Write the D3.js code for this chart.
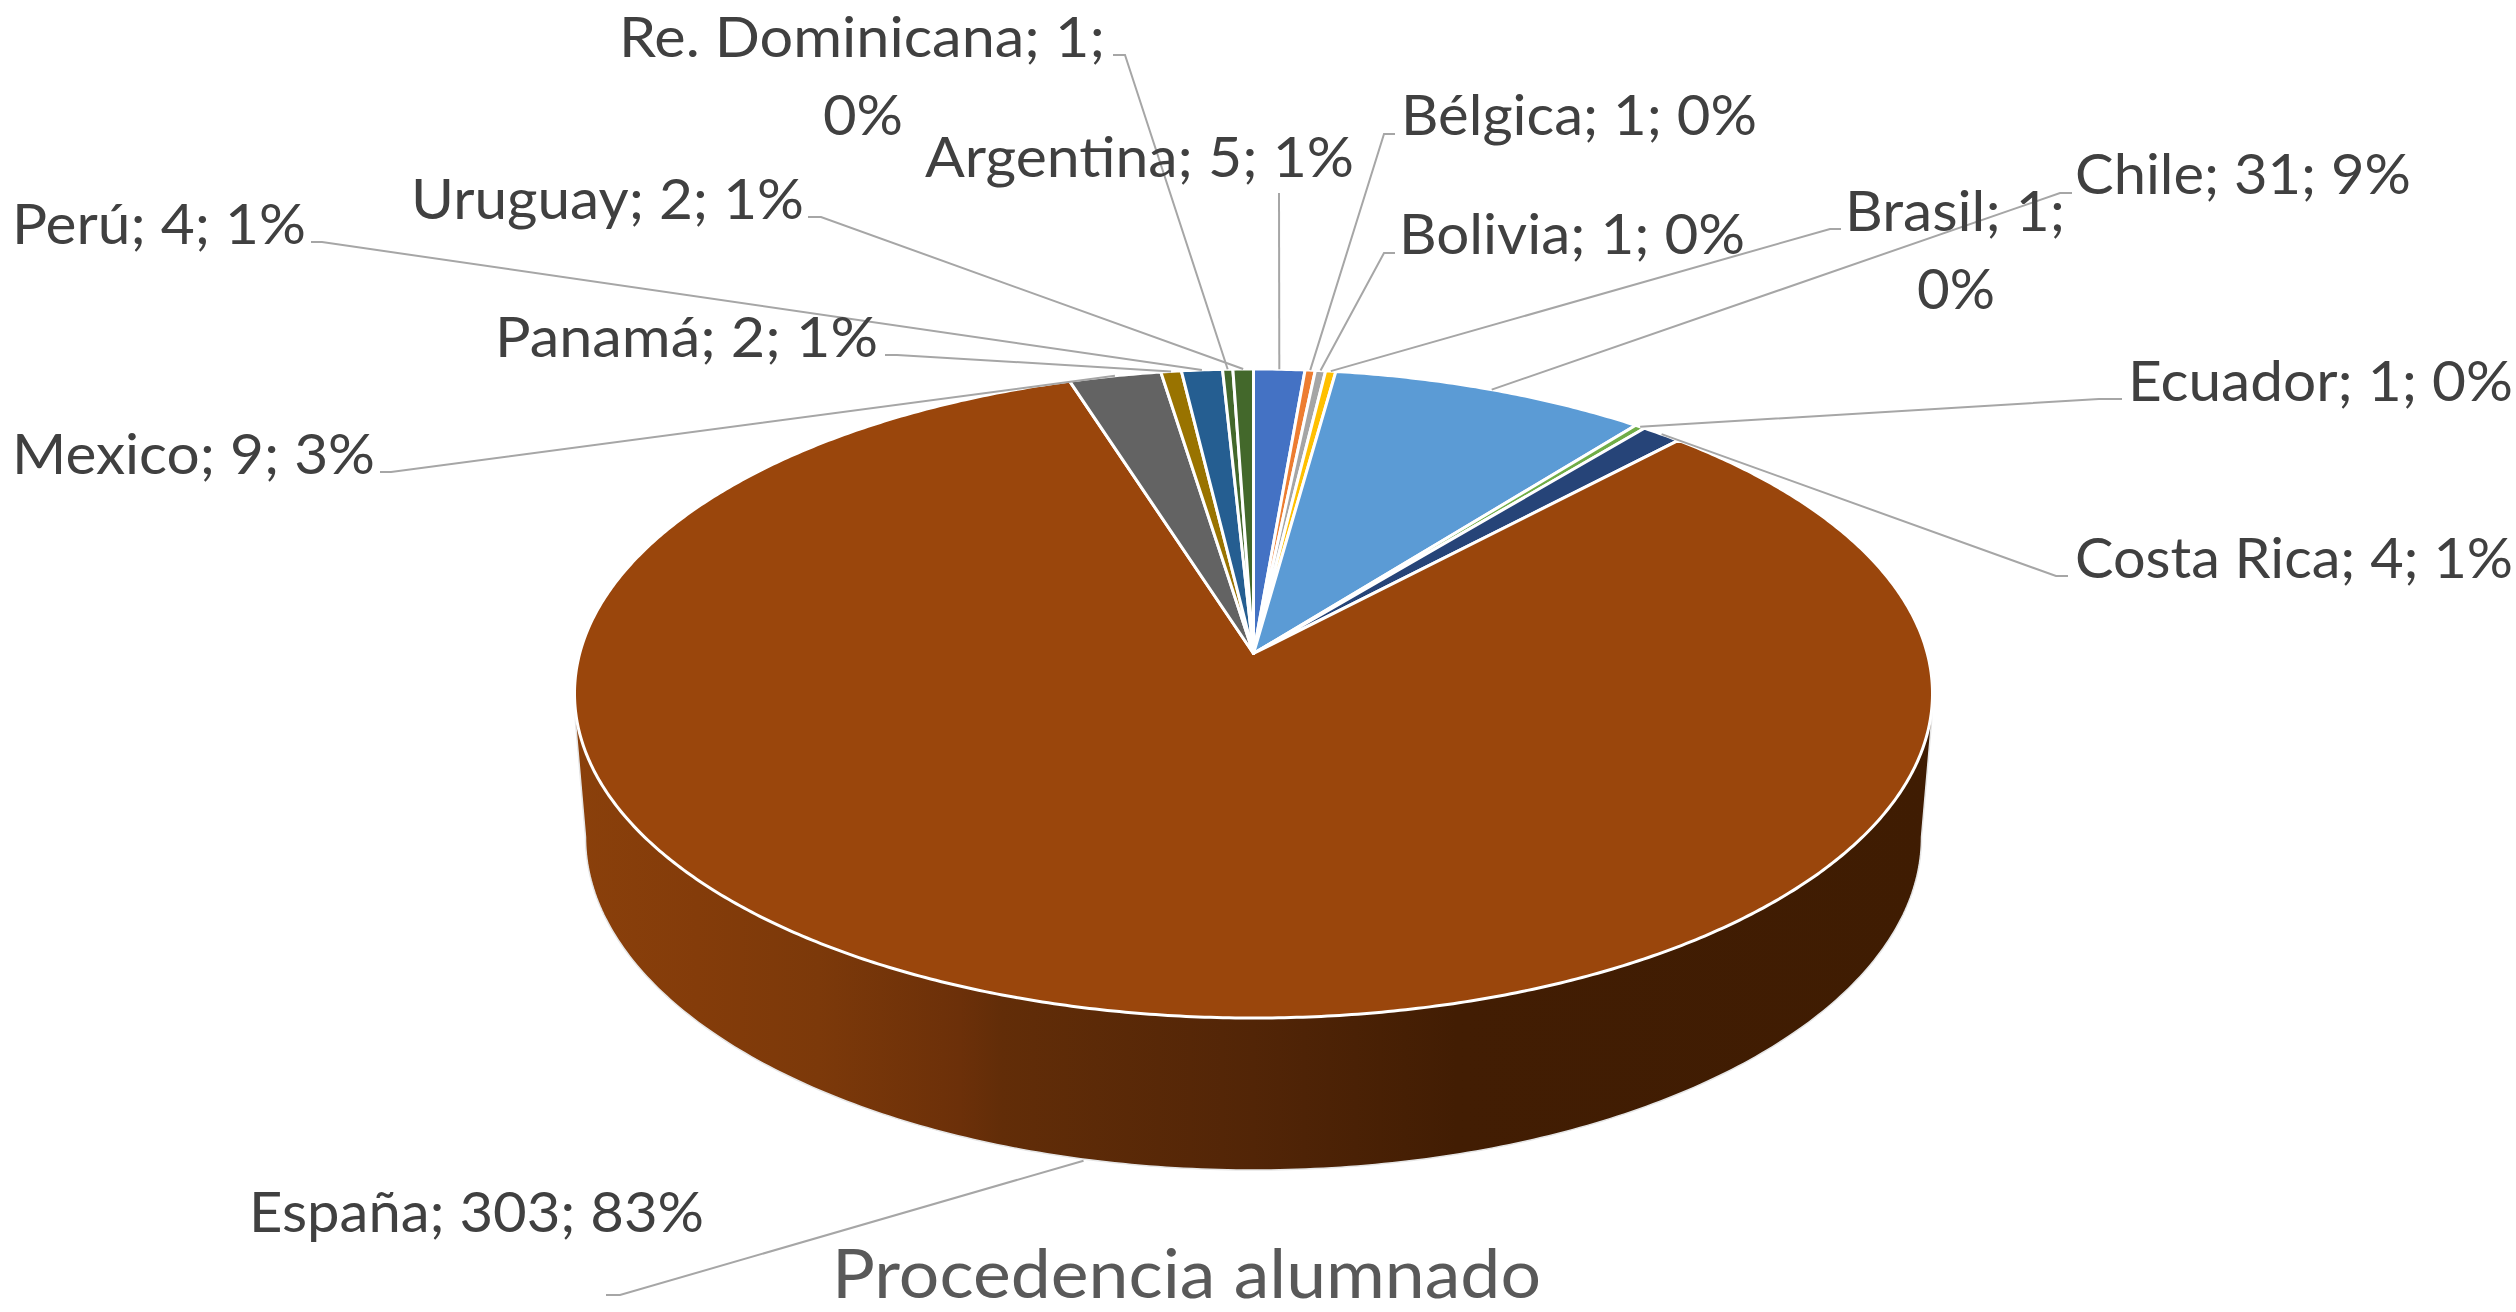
<!DOCTYPE html>
<html>
<head>
<meta charset="utf-8">
<script src="https://cdn.jsdelivr.net/npm/d3@7"></script>
<style>
html,body{margin:0;padding:0;background:#fff;overflow:hidden}
svg{display:block}
text{font-family:Lato,"Open Sans",sans-serif}
</style>
</head>
<body>
<svg id="chart" width="2516" height="1312"></svg>
<script>
// --- data ---
const categories = ["Argentina","Bélgica","Bolivia","Brasil","Chile","Ecuador","Costa Rica","España","Mexico","Panamá","Perú","Re. Dominicana","Uruguay"];
const values     = [5,1,1,1,31,1,4,303,9,2,4,1,2];
const percents   = [1,0,0,0,9,0,1,83,3,1,1,0,1];
const chartTitle = "Procedencia alumnado";

// --- styles ---
const colors = ["#4472c4","#ed7d31","#a5a5a5","#ffc000","#5b9bd5","#70ad47","#264478","#9a460c","#636363","#997300","#255e91","#43682b","#43682b"];

// --- layout ---
const W = 2516, H = 1312;
const top3d = {cx:1253.5, cy:693.5, rx:679, ry:324.5, apexOffset:40};
const bottom3d = {cx:1253.5, cy:837, rx:668, ry:333};
const sideJoinY = 722;
const depth = 153;
// per label: lines as [left, right, baseline]; leader: start x, elbow x, elbow y
const labelLayout = {
  "Argentina":      {lines:[[925,1354,177]],  leader:[1279,1279,193], straight:true},
  "Bélgica":        {lines:[[1401,1757,135]], leader:[1395,1384,134]},
  "Bolivia":        {lines:[[1399,1745,254]], leader:[1395,1384,253]},
  "Brasil":         {lines:[[1845,2065,231],[1917,1995,309]], breakAfter:2, leader:[1841,1830,229]},
  "Chile":          {lines:[[2075,2411,194]], leader:[2072,2060,193]},
  "Ecuador":        {lines:[[2128,2513,401]], leader:[2122,2099,399]},
  "Costa Rica":     {lines:[[2075,2513,578]], leader:[2068,2056,576]},
  "España":         {lines:[[249,704,1232]],  leader:[606,620,1295], onBottom:true},
  "Mexico":         {lines:[[12,375,474]],    leader:[380,391,472]},
  "Panamá":         {lines:[[495,878,357]],   leader:[885,897,355]},
  "Perú":           {lines:[[12,306,244]],    leader:[311,322,242]},
  "Re. Dominicana": {lines:[[619,1105,57],[823,903,135]], breakAfter:2, leader:[1113,1125,55]},
  "Uruguay":        {lines:[[411,804,219]],   leader:[808,821,217]}
};
const titleLayout = [832,1541,1298];

const svg = d3.select("#chart");
const a = top3d.apexOffset / top3d.ry;
const k = Math.sqrt(1 - a*a);

// Perspective projection of a point of the unit pie disc onto the top face.
function project(theta, r = 1){
  const x = Math.sin(theta)*r, y = -Math.cos(theta)*r;
  const d = 1 - a*y;
  return [top3d.cx + top3d.rx*x*k/d, top3d.cy + top3d.ry*(y-a)/d];
}

const pie = d3.pie().sort(null).value(d => d).startAngle(0).endAngle(2*Math.PI);
const arcs = pie(values);
const line = d3.line();
const apex = project(0,0);

function slicePath(d){
  const n = Math.max(2, Math.ceil((d.endAngle-d.startAngle)/0.008));
  const rim = d3.range(n+1).map(i => project(d.startAngle + (d.endAngle-d.startAngle)*i/n));
  return line([apex, ...rim]) + "Z";
}

// gradient of the wall
const grad = svg.append("defs").append("linearGradient")
  .attr("id","wall").attr("gradientUnits","userSpaceOnUse")
  .attr("x1",574).attr("x2",1932).attr("y1",0).attr("y2",0);
[[0,"#8a400b"],[0.09,"#843c0a"],[0.18,"#7c390a"],[0.284,"#6c3009"],[0.315,"#622d08"],[0.5,"#522507"],[0.65,"#421d03"],[1,"#3f1c02"]]
  .forEach(s => grad.append("stop").attr("offset",s[0]).attr("stop-color",s[1]));

// wall
const wallN = 240;
const lower = d3.range(wallN+1).map(i => {
  const t = Math.PI*i/wallN;
  return [bottom3d.cx - bottom3d.rx*Math.cos(t), bottom3d.cy + bottom3d.ry*Math.sin(t)];
});
const wallPts = [[top3d.cx-top3d.rx+1, sideJoinY], ...lower, [top3d.cx+top3d.rx-1, sideJoinY], [top3d.cx+top3d.rx-1, top3d.cy], [top3d.cx-top3d.rx+1, top3d.cy]];
svg.append("path").attr("d", line(wallPts)+"Z")
  .attr("fill","url(#wall)").attr("stroke","#e6e6e6").attr("stroke-width",1.5);

// top face
svg.append("g").selectAll("path").data(arcs).join("path")
  .attr("d", slicePath)
  .attr("fill",(d,i)=>colors[i])
  .attr("stroke","#fff").attr("stroke-width",3).attr("stroke-linejoin","round");

// leader lines
const leaders = svg.append("g").attr("fill","none").attr("stroke","#a6a6a6").attr("stroke-width",2);
arcs.forEach((d,i) => {
  const L = labelLayout[categories[i]];
  const p = project((d.startAngle+d.endAngle)/2);
  const end = L.onBottom ? [p[0], p[1]+depth] : p;
  leaders.append("path").attr("d", line([[L.leader[0],L.leader[2]],[L.leader[1],L.leader[2]],end]));
});

// labels
const labels = svg.append("g").attr("fill","#404040").attr("font-size",56);
categories.forEach((c,i) => {
  const L = labelLayout[c];
  const parts = [c, values[i], percents[i]+"%"];
  const texts = L.lines.length > 1
    ? [parts.slice(0,L.breakAfter).join("; ")+";", parts.slice(L.breakAfter).join("; ")]
    : [parts.join("; ")];
  texts.forEach((t,j) => {
    const [x0,x1,b] = L.lines[j];
    labels.append("text").attr("x",x0).attr("y",b)
      .attr("textLength",x1-x0).attr("lengthAdjust","spacingAndGlyphs").text(t);
  });
});

// title
svg.append("text").attr("x",titleLayout[0]).attr("y",titleLayout[2])
  .attr("font-size",68).attr("fill","#595959")
  .attr("textLength",titleLayout[1]-titleLayout[0]).attr("lengthAdjust","spacingAndGlyphs")
  .text(chartTitle);
</script>
</body>
</html>
